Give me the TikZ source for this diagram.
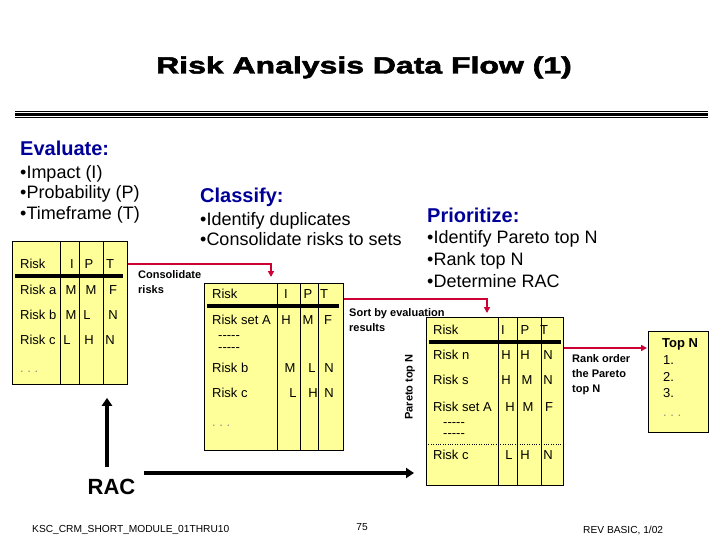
\documentclass[tikz,border=0pt]{standalone}
\usepackage{fontspec}
\setmainfont{Liberation Sans}
\newfontfamily\titlefont{Liberation Sans}[BoldFeatures={FakeBold=2}]
\usetikzlibrary{positioning,arrows.meta,calc}
\definecolor{padyellow}{RGB}{255,255,153}
\definecolor{flowred}{RGB}{204,0,51}
\definecolor{headblue}{RGB}{0,0,153}
\tikzset{
    >={Triangle[length=6pt,width=6pt]},
    riskbox/.style={
        rectangle,
        draw=black, line width=0.8pt,
        fill=padyellow,
        inner sep=0pt,
        anchor=north west
    },
    cell/.style={
        inner sep=0pt,
        text height=9.3pt,
        text depth=0pt,
        font=\fontsize{13}{15}\selectfont
    },
    rowname/.style={cell, anchor=west},
    heading/.style={
        anchor=west,
        inner sep=0pt,
        text height=14.3pt,
        text depth=0pt,
        text=headblue,
        font=\bfseries\fontsize{20}{24}\selectfont
    },
    point/.style={
        anchor=west,
        inner sep=0pt,
        text height=12.9pt,
        text depth=0pt,
        font=\fontsize{18}{21}\selectfont
    },
    remark/.style={
        anchor=north west,
        inner sep=0pt,
        align=left,
        font=\bfseries\fontsize{11}{15.5}\selectfont
    },
    flow/.style={draw=flowred, line width=1.4pt, ->, shorten >=1pt},
    racflow/.style={draw, line width=3.3pt, -{Triangle[length=8pt,width=10pt]}},
    headline/.style={line width=3.3pt},
    footer/.style={inner sep=0pt, font=\fontsize{10.2}{11}\selectfont}
}

\begin{document}
\begin{tikzpicture}[x=1pt, y=-1pt]
    \useasboundingbox (0,0) rectangle (720,540);

    \node[inner sep=0pt, text height=17pt, text depth=0pt] (title) at (364,65)
        {\scalebox{1.36}[1]{\titlefont\fontsize{23.5}{28}\selectfont\bfseries Risk Analysis Data Flow (1)}};
    \draw[line width=1.2pt] (15,111.5) -- (708,111.5);
    \draw[line width=2.5pt] (15,114.5) -- (708,114.5);
    \draw[line width=1.2pt] (15,117.5) -- (708,117.5);

    \node[heading] (evaluate) at (20,148) {Evaluate:};
    \node[point] (impact) at (20,172) {•Impact (I)};
    \node[point] (probability) at (20,192.5) {•Probability (P)};
    \node[point] (timeframe) at (20,213.5) {•Timeframe (T)};

    \node[heading] (classify) at (200,195) {Classify:};
    \node[point] (duplicates) at (200,219) {•Identify duplicates};
    \node[point] (sets) at (200,239) {•Consolidate risks to sets};

    \node[heading] (prioritize) at (427,215) {Prioritize:};
    \node[point] (pareto) at (427,237.5) {•Identify Pareto top N};
    \node[point] (rank) at (427,259) {•Rank top N};
    \node[point] (determine) at (427,281) {•Determine RAC};

    % evaluated risks
    \node[riskbox, minimum width=115pt, minimum height=143pt] (evalbox) at (12,241) {};
    \foreach \x in {60,79,103}
        \draw (\x,241) -- (\x,384);
    \draw[headline] (15,276) -- (123,276);
    \foreach \y/\t [count=\i] in {264/Risk,290/Risk a,315/Risk b,340/Risk c}
        \node[rowname] (evrow\i) at (20,\y) {\t};
    \foreach \x/\y/\t [count=\i] in {72/264/I,89/264/P,110/264/T,
                                     71/290/M,91/290/M,113/290/F,
                                     71/315/M,87/315/L,113/315/N,
                                     67/340/L,89/340/H,110/340/N}
        \node[cell] (evcell\i) at (\x,\y) {\t};
    \node[rowname, text=black!45] (evmore) at (20,368) {.\ .\ .};

    % classified risks
    \node[riskbox, minimum width=139pt, minimum height=167pt] (classbox) at (204,283) {};
    \foreach \x in {277,300,318}
        \draw (\x,283) -- (\x,450);
    \draw[headline] (207,306) -- (339,306);
    \foreach \y/\t [count=\i] in {294/Risk,320/Risk set A,368/Risk b,393/Risk c}
        \node[rowname] (clrow\i) at (212,\y) {\t};
    \node[rowname] (cldash1) at (218,335) {{-}{-}{-}{-}{-}};
    \node[rowname] (cldash2) at (218,347) {{-}{-}{-}{-}{-}};
    \foreach \x/\y/\t [count=\i] in {286/294/I,308/294/P,324/294/T,
                                     286/320/H,308/320/M,328/320/F,
                                     290/368/M,312/368/L,329/368/N,
                                     293/393/L,313/393/H,329/393/N}
        \node[cell] (clcell\i) at (\x,\y) {\t};
    \node[rowname, text=black!45] (clmore) at (212,422) {.\ .\ .};

    % prioritized risks
    \node[riskbox, minimum width=137pt, minimum height=168pt] (priobox) at (426,317) {};
    \foreach \x in {498,517,541}
        \draw (\x,317) -- (\x,485);
    \draw[headline] (429,342) -- (561,342);
    \draw[dotted] (426,444) -- (563,444);
    \foreach \y/\t [count=\i] in {330/Risk,355/Risk n,380/Risk s,407/Risk set A,455/Risk c}
        \node[rowname] (prrow\i) at (433,\y) {\t};
    \node[rowname] (prdash1) at (443,422) {{-}{-}{-}{-}{-}};
    \node[rowname] (prdash2) at (443,433) {{-}{-}{-}{-}{-}};
    \foreach \x/\y/\t [count=\i] in {503/330/I,525/330/P,544/330/T,
                                     506/355/H,525/355/H,548/355/N,
                                     506/380/H,527/380/M,548/380/N,
                                     510/407/H,528/407/M,549/407/F,
                                     509/455/L,525/455/H,548/455/N}
        \node[cell] (prcell\i) at (\x,\y) {\t};

    % top N
    \node[riskbox, minimum width=60pt, minimum height=101pt] (topbox) at (648,331) {};
    \node[rowname, font=\bfseries\fontsize{13}{15}\selectfont] (topn) at (662,343) {Top N};
    \foreach \y/\t [count=\i] in {360/1.,377/2.,393/3.}
        \node[rowname] (topitem\i) at (663,\y) {\t};
    \node[rowname, text=black!45] (topmore) at (663,412) {.\ .\ .};

    \draw[flow] ([yshift=-23pt]evalbox.north east) -| ([xshift=67pt,yshift=5pt]classbox.north west);
    \draw[flow] ([yshift=-16pt]classbox.north east) -| ([xshift=61pt,yshift=3pt]priobox.north west);
    \draw[flow] ([yshift=-31pt]priobox.north east) -- ([yshift=-31pt]priobox.north east -| topbox.west);

    \node[remark] (consnote) at (138,270) {Consolidate\\risks};
    \node[remark] (sortnote) at (349,308) {Sort by evaluation\\results};
    \node[remark, font=\bfseries\fontsize{11}{15}\selectfont] (ranknote) at (572,354) {Rank order\\the Pareto\\top N};
    \node[rotate=90, inner sep=0pt, font=\bfseries\fontsize{11}{13}\selectfont] (paretonote) at (410,387) {Pareto top N};

    \node[inner sep=0pt, text height=16pt, text depth=0pt, font=\bfseries\fontsize{22}{26}\selectfont] (rac) at (111.5,486) {RAC};
    \coordinate (racfoot) at (107,467);
    \coordinate (racstart) at (144,473);
    \draw[racflow, shorten >=13pt] (racfoot) -- (racfoot |- evalbox.south);
    \draw[racflow, shorten >=12pt] (racstart) -- (racstart -| priobox.west);

    \node[footer, anchor=west] (module) at (32,530) {KSC\_CRM\_SHORT\_MODULE\_01THRU10};
    \node[footer] (pagenum) at (362,527) {75};
    \node[footer, anchor=west] (revision) at (583,530) {REV BASIC, 1/02};
\end{tikzpicture}
\end{document}
